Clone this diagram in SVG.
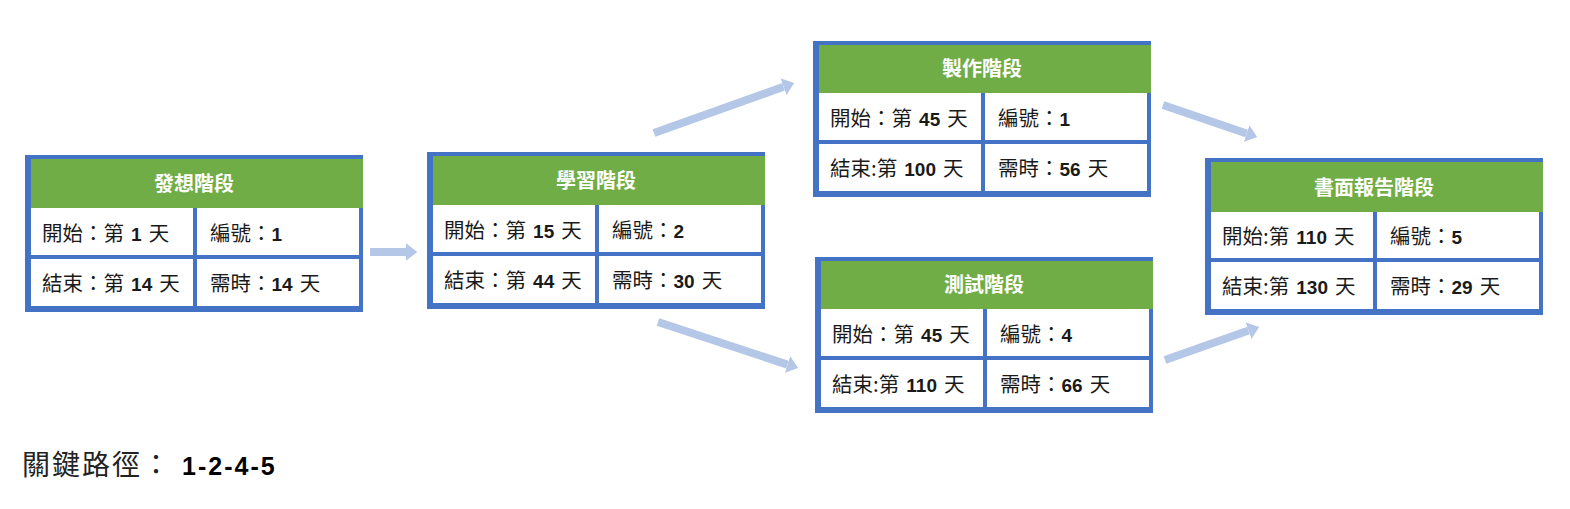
<svg xmlns="http://www.w3.org/2000/svg" width="1570" height="509" viewBox="0 0 1570 509">
<defs>
<style>
.frame{fill:#4472c4}
.head{fill:#70ad47}
.cell{fill:#ffffff}
.title{font-family:"Noto Sans CJK TC","Noto Sans CJK SC",sans-serif;font-size:20px;font-weight:700;fill:#ffffff;text-anchor:middle}
.t{font-family:"Noto Sans CJK TC","Noto Sans CJK SC",sans-serif;font-size:20.5px;fill:#1a1a1a;word-spacing:2.5px}
.n{font-family:"Liberation Sans",Arial,sans-serif;font-weight:700;font-size:19px}
.conn{stroke:#b4c7e7;stroke-width:8;fill:none;stroke-linecap:butt}
.foot{font-family:"Noto Sans CJK TC","Noto Sans CJK SC",sans-serif;font-size:28px;fill:#222;letter-spacing:2px}
.footn{font-family:"Liberation Sans",Arial,sans-serif;font-weight:700;font-size:25px;letter-spacing:2px;fill:#000}
</style>
<marker id="ah" viewBox="0 0 10 10" refX="0" refY="5" markerWidth="1.4" markerHeight="2.2" preserveAspectRatio="none" orient="auto">
<path d="M0,0 L10,5 L0,10 z" fill="#b4c7e7"/>
</marker>
</defs>
<rect width="1570" height="509" fill="#ffffff"/>

<g id="connectors">
<line class="conn" x1="370" y1="252" x2="406" y2="252" marker-end="url(#ah)"/>
<line class="conn" x1="654" y1="133" x2="783.6" y2="86.7" marker-end="url(#ah)"/>
<line class="conn" x1="658" y1="322" x2="787.5" y2="364.6" marker-end="url(#ah)"/>
<line class="conn" x1="1163" y1="105" x2="1246.6" y2="133.5" marker-end="url(#ah)"/>
<line class="conn" x1="1165" y1="360" x2="1248.6" y2="330.6" marker-end="url(#ah)"/>
</g>

<g id="node1" transform="translate(25,155)">
<rect class="frame" width="338" height="157"/>
<rect class="head" x="6" y="4" width="332" height="49"/>
<rect class="cell" x="6" y="53" width="162" height="47"/>
<rect class="cell" x="172" y="53" width="162" height="47"/>
<rect class="cell" x="6" y="104" width="162" height="47"/>
<rect class="cell" x="172" y="104" width="162" height="47"/>
<text class="title" x="169" y="36">發想階段</text>
<text class="t" x="17" y="86">開始：第 <tspan class="n">1</tspan> 天</text>
<text class="t" x="185" y="86">編號：<tspan class="n">1</tspan></text>
<text class="t" x="17" y="136">結束：第 <tspan class="n">14</tspan> 天</text>
<text class="t" x="185" y="136">需時：<tspan class="n">14</tspan> 天</text>
</g>

<g id="node2" transform="translate(427,152)">
<rect class="frame" width="338" height="157"/>
<rect class="head" x="6" y="4" width="332" height="49"/>
<rect class="cell" x="6" y="53" width="162" height="47"/>
<rect class="cell" x="172" y="53" width="162" height="47"/>
<rect class="cell" x="6" y="104" width="162" height="47"/>
<rect class="cell" x="172" y="104" width="162" height="47"/>
<text class="title" x="169" y="36">學習階段</text>
<text class="t" x="17" y="86">開始：第 <tspan class="n">15</tspan> 天</text>
<text class="t" x="185" y="86">編號：<tspan class="n">2</tspan></text>
<text class="t" x="17" y="136">結束：第 <tspan class="n">44</tspan> 天</text>
<text class="t" x="185" y="136">需時：<tspan class="n">30</tspan> 天</text>
</g>

<g id="node3" transform="translate(813,41)">
<rect class="frame" width="338" height="156"/>
<rect class="head" x="6" y="4" width="332" height="48"/>
<rect class="cell" x="6" y="52" width="162" height="47"/>
<rect class="cell" x="172" y="52" width="162" height="47"/>
<rect class="cell" x="6" y="103" width="162" height="47"/>
<rect class="cell" x="172" y="103" width="162" height="47"/>
<text class="title" x="169" y="35">製作階段</text>
<text class="t" x="17" y="85">開始：第 <tspan class="n">45</tspan> 天</text>
<text class="t" x="185" y="85">編號：<tspan class="n">1</tspan></text>
<text class="t" x="17" y="135">結束:第 <tspan class="n">100</tspan> 天</text>
<text class="t" x="185" y="135">需時：<tspan class="n">56</tspan> 天</text>
</g>

<g id="node4" transform="translate(815,257)">
<rect class="frame" width="338" height="156"/>
<rect class="head" x="6" y="4" width="332" height="48"/>
<rect class="cell" x="6" y="52" width="162" height="47"/>
<rect class="cell" x="172" y="52" width="162" height="47"/>
<rect class="cell" x="6" y="103" width="162" height="47"/>
<rect class="cell" x="172" y="103" width="162" height="47"/>
<text class="title" x="169" y="35">測試階段</text>
<text class="t" x="17" y="85">開始：第 <tspan class="n">45</tspan> 天</text>
<text class="t" x="185" y="85">編號：<tspan class="n">4</tspan></text>
<text class="t" x="17" y="135">結束:第 <tspan class="n">110</tspan> 天</text>
<text class="t" x="185" y="135">需時：<tspan class="n">66</tspan> 天</text>
</g>

<g id="node5" transform="translate(1205,158)">
<rect class="frame" width="338" height="157"/>
<rect class="head" x="6" y="4" width="332" height="50"/>
<rect class="cell" x="6" y="54" width="162" height="46"/>
<rect class="cell" x="172" y="54" width="162" height="46"/>
<rect class="cell" x="6" y="104" width="162" height="47"/>
<rect class="cell" x="172" y="104" width="162" height="47"/>
<text class="title" x="169" y="37">書面報告階段</text>
<text class="t" x="17" y="86">開始:第 <tspan class="n">110</tspan> 天</text>
<text class="t" x="185" y="86">編號：<tspan class="n">5</tspan></text>
<text class="t" x="17" y="136">結束:第 <tspan class="n">130</tspan> 天</text>
<text class="t" x="185" y="136">需時：<tspan class="n">29</tspan> 天</text>
</g>

<g id="critical-path">
<text x="22" y="475"><tspan class="foot">關鍵路徑：</tspan><tspan class="footn" dx="10">1-2-4-5</tspan></text>
</g>
</svg>
